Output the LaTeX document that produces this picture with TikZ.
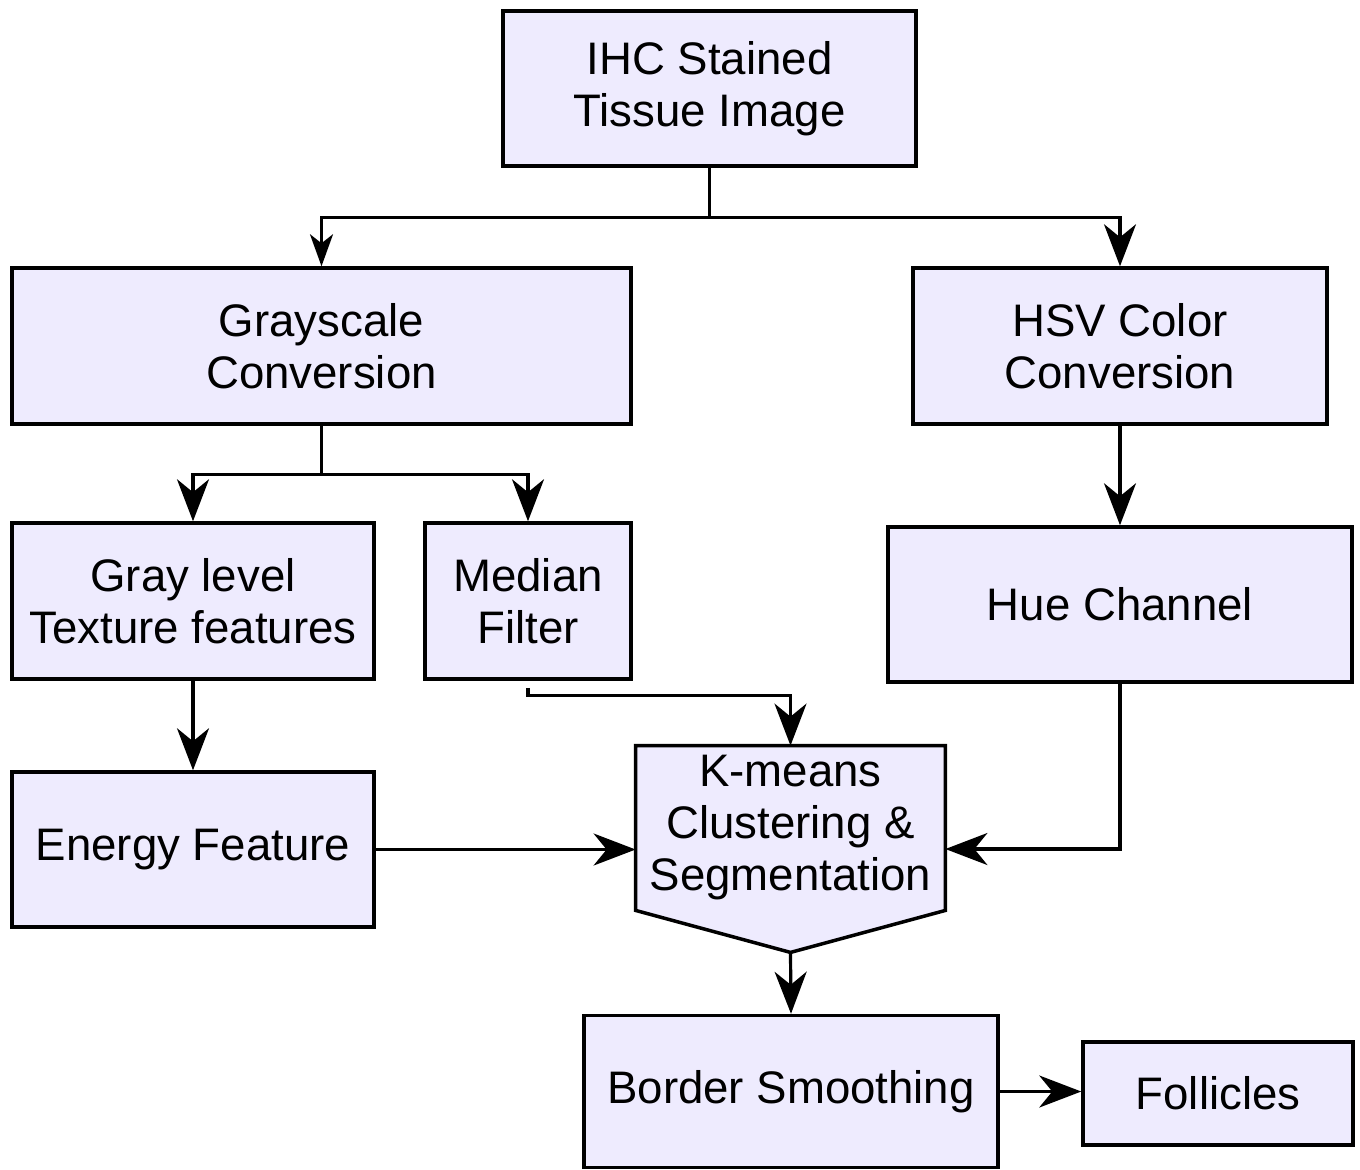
\documentclass[tikz,border=0pt]{standalone}
\usepackage{fontspec}
\setmainfont{Liberation Sans}
\usetikzlibrary{arrows.meta,calc}
\definecolor{boxfill}{HTML}{EEEBFE}
\tikzset{
  boxline/.style={draw=black, line width=1.75pt, line join=miter},
  pbox/.style={boxline, fill=boxfill, rectangle, inner sep=0pt, align=center,
    font=\fontsize{22.8pt}{26pt}\selectfont},
  conn/.style={draw=black, line width=1.6pt, line join=miter},
  bigarrow/.style={conn, -{Stealth[length=21pt,width=16pt,inset=6.5pt]}},
  smallarrow/.style={conn, -{Stealth[length=16pt,width=11.5pt,inset=4.5pt]}},
}
\begin{document}
\begin{tikzpicture}[x=0.5pt,y=-0.5pt]
\useasboundingbox (0,0) rectangle (1360,1169);

\node[pbox, minimum width=206.5pt, minimum height=77.5pt] (ihc) at (709.5,88.5) {IHC Stained\\Tissue Image};
\node[pbox, minimum width=309.5pt, minimum height=78pt] (gray) at (321.5,346) {Grayscale\\Conversion};
\node[pbox, minimum width=207pt, minimum height=78pt] (hsv) at (1120,346) {HSV Color\\Conversion};
\node[pbox, minimum width=181pt, minimum height=78pt] (glt) at (193,601) {Gray level\\Texture features};
\node[pbox, minimum width=103pt, minimum height=78pt] (med) at (528,601) {Median\\Filter};
\node[pbox, minimum width=232pt, minimum height=77.5pt] (hue) at (1120,604.5) {Hue Channel};
\node[pbox, minimum width=181pt, minimum height=77.5pt] (energy) at (193,849.5) {Energy Feature};
\node[rectangle, inner sep=0pt, minimum width=154.5pt, minimum height=103pt] (km) at (790.5,849) {};
\draw[boxline, fill=boxfill] (km.north west) -- (km.north east) -- ($(km.south east)+(0,-42)$)
  -- (km.south) -- ($(km.south west)+(0,-42)$) -- cycle;
\node[align=center, inner sep=0pt, font=\fontsize{22.8pt}{26pt}\selectfont] (kmtext) at (790.5,828) {K-means\\Clustering \&\\Segmentation};
\node[pbox, minimum width=207pt, minimum height=76pt] (border) at (791,1091.5) {Border Smoothing};
\node[pbox, minimum width=135pt, minimum height=51.5pt] (foll) at (1218,1093.5) {Follicles};

% IHC split
\coordinate (s1) at ($(ihc.south)+(0,50)$);
\draw[conn] (ihc.south) -- (s1);
\draw[smallarrow] (s1) -| (gray.north);
\draw[bigarrow] (s1) -| (hsv.north);

% Grayscale split
\coordinate (s2) at ($(gray.south)+(0,49)$);
\draw[conn] (gray.south) -- (s2);
\draw[bigarrow] (s2) -| (glt.north);
\draw[bigarrow] (s2) -| (med.north);

\draw[bigarrow] (hsv.south) -- (hue.north);
\draw[bigarrow] (glt.south) -- (energy.north);

\coordinate (m0) at ($(med.south)+(0,7)$);
\draw[bigarrow] (m0) -- ++(0,8) -| (km.north);

\draw[bigarrow] (energy.east) -- (energy.east -| km.west);
\draw[bigarrow] (hue.south) |- (km.east);
\draw[bigarrow] (km.south) -- (border.north);
\draw[bigarrow] (border.east) -- (border.east -| foll.west);
\end{tikzpicture}
\end{document}
